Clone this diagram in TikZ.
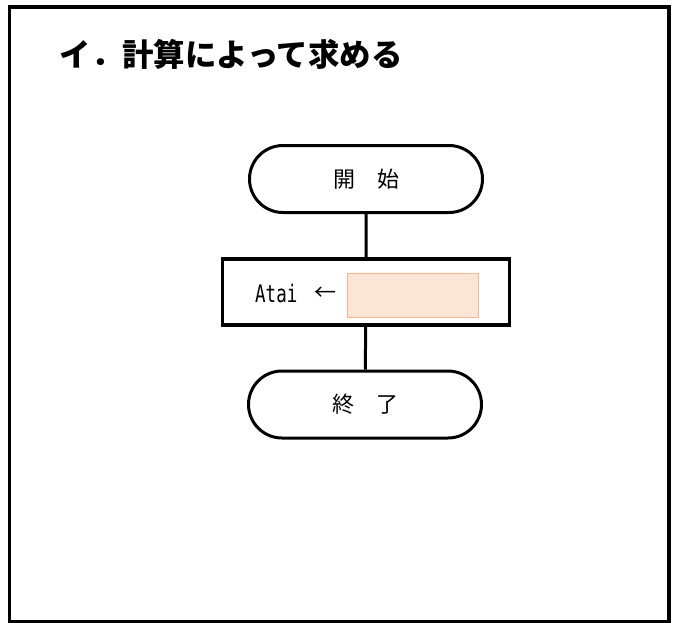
\documentclass[tikz,border=0pt]{standalone}
\usepackage{fontspec}
\newfontfamily\jpfont{Noto Sans CJK JP}
\newfontfamily\atfont{DejaVu Sans Mono}
\usetikzlibrary{shapes.misc}
\definecolor{slotfill}{HTML}{FBE5D7}
\definecolor{slotline}{HTML}{F6B68A}

\begin{document}
\begin{tikzpicture}[x=1pt, y=-1pt,
		terminal/.style={draw, line width=3pt, rounded rectangle, minimum width=233pt, minimum height=67pt, inner sep=0pt, font=\jpfont\fontsize{22}{26}\selectfont},
		procbox/.style={draw, line width=3.5pt, minimum width=287pt, minimum height=66pt, inner sep=0pt},
		flowline/.style={line width=3pt}]
		%%%%% START %%%%%
		
		\useasboundingbox (0, 0) rectangle (680, 622);
		\draw[line width=3.5pt] (9.7, 7) rectangle (668.8, 621.5);
		
		\node[anchor=west, inner sep=0pt, font=\jpfont\bfseries\fontsize{31.4}{36}\selectfont] (title) at (59.5, 54) {イ．計算によって求める};
		
		\node[terminal] (start) at (366, 179) {開　始};
		\node[procbox] (assign) at (366, 292) {};
		\node[terminal] (finish) at (365, 404.5) {終　了};
		
		\draw[flowline] (start) -- (assign);
		\draw[flowline] (assign) -- (finish);
		
		\node[anchor=west, inner sep=0pt, font=\atfont\fontsize{17.5}{20}\selectfont] (atai) at (255, 293) {\scalebox{1}[1.38]{Atai}};
		\node[inner sep=0pt, font=\jpfont\fontsize{22}{26}\selectfont] (arrow) at (325, 294) {←};
		\node[draw=slotline, fill=slotfill, line width=1.2pt, minimum width=131pt, minimum height=44pt, inner sep=0pt] (slot) at (413, 295.5) {};
		
		%%%%% END %%%%%
	\end{tikzpicture}
\end{document}
